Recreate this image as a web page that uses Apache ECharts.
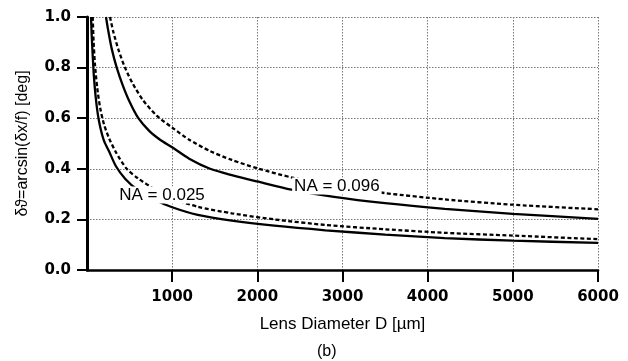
<!DOCTYPE html>
<html>
<head>
<meta charset="utf-8">
<script src="https://cdn.jsdelivr.net/npm/echarts@6/dist/echarts.min.js"></script>
<style>
  html, body { margin: 0; padding: 0; background: #fff; }
  #chart { width: 628px; height: 361px; }
</style>
</head>
<body>
<div id="chart"></div>
<script>
// lens diameter D [um] vs angle [deg]
const solid025 = [[47,1.0],[55,0.93],[65,0.86],[80,0.77],[100,0.69],[125,0.62],[155,0.565],[200,0.51],[260,0.468],[340,0.41],[450,0.36],[600,0.315],[800,0.277],[1000,0.248],[1300,0.218],[1700,0.195],[2200,0.175],[2800,0.157],[3500,0.14],[4200,0.126],[5000,0.116],[6000,0.107]];
const dashed025 = [[67,1.0],[78,0.9],[94,0.81],[120,0.72],[155,0.64],[200,0.575],[260,0.52],[340,0.465],[466,0.4],[600,0.362],[800,0.318],[1000,0.283],[1300,0.25],[1700,0.224],[2200,0.2],[2800,0.178],[3500,0.161],[4200,0.147],[5000,0.136],[6000,0.122]];
const solid096 = [[223,1.0],[250,0.945],[290,0.875],[349,0.8],[420,0.73],[500,0.665],[603,0.6],[730,0.55],[858,0.515],[1000,0.485],[1200,0.44],[1445,0.4],[1700,0.375],[2000,0.35],[2400,0.318],[2900,0.289],[3500,0.264],[4200,0.242],[5000,0.222],[6000,0.202]];
const dashed096 = [[270,1.0],[310,0.94],[370,0.87],[446,0.8],[540,0.735],[660,0.67],[818,0.61],[1000,0.563],[1200,0.515],[1445,0.47],[1700,0.435],[2000,0.402],[2400,0.366],[2900,0.333],[3500,0.304],[4200,0.279],[5000,0.258],[6000,0.24]];
const labels = [[881,0.296,'NA = 0.025'],[2934,0.332,'NA = 0.096']];

const xTitle = 'Lens Diameter D [µm]';
const yTitle = 'δϑ=arcsin(δx/f) [deg]';
const numFont = 'DejaVu Sans';
const txtFont = 'Liberation Sans, Arial, DejaVu Sans';

const chart = echarts.init(document.getElementById('chart'));

function curve(data, dashed) {
	return {
		type: 'line',
		data: data,
		showSymbol: false,
		symbol: 'none',
		smooth: 0.25,
		clip: true,
		silent: true,
		lineStyle: {
			color: '#000',
			width: 2.3,
			type: dashed ? [4, 2.5] : 'solid'
		},
		z: 3
	};
}

chart.setOption({
	animation: false,
	backgroundColor: '#fff',
	title: {
		text: '(b)',
		left: 317,
		top: 344,
		padding: 0,
		textStyle: { fontFamily: txtFont, fontSize: 16, fontWeight: 'normal', color: '#000' }
	},
	grid: { left: 87, right: 30, top: 17, bottom: 91 },
	xAxis: {
		type: 'value',
		min: 0,
		max: 6000,
		interval: 1000,
		name: xTitle,
		nameLocation: 'middle',
		nameGap: 46,
		nameTextStyle: { fontFamily: txtFont, fontSize: 17, color: '#000' },
		axisLine: { onZero: false, lineStyle: { color: '#000', width: 2.5 } },
		axisTick: { show: true, inside: false, length: 12, lineStyle: { color: '#000', width: 2 } },
		axisLabel: {
			showMinLabel: false,
			margin: 20,
			formatter: (v) => String(v),
			fontFamily: numFont,
			fontWeight: 'bold',
			fontSize: 15,
			color: '#000'
		},
		splitLine: { show: true, lineStyle: { color: '#777', width: 1, type: [1.5, 1.5] } }
	},
	yAxis: {
		type: 'value',
		min: 0,
		max: 1,
		interval: 0.2,
		name: yTitle,
		nameLocation: 'middle',
		nameGap: 56,
		nameTextStyle: { fontFamily: txtFont, fontSize: 16, color: '#000' },
		axisLine: { show: true, lineStyle: { color: '#000', width: 3 } },
		axisTick: { show: true, length: 10, lineStyle: { color: '#000', width: 2 } },
		axisLabel: {
			margin: 16,
			formatter: (v) => v.toFixed(1),
			fontFamily: numFont,
			fontWeight: 'bold',
			fontSize: 15,
			color: '#000'
		},
		splitLine: { show: true, lineStyle: { color: '#777', width: 1, type: [1.5, 1.5] } }
	},
	series: [
		curve(solid025, false),
		curve(dashed025, true),
		curve(solid096, false),
		curve(dashed096, true),
		{
			type: 'scatter',
			data: labels,
			symbolSize: 2,
			silent: true,
			itemStyle: { color: '#fff', opacity: 1 },
			z: 10,
			label: {
				show: true,
				position: 'inside',
				formatter: (p) => p.value[2],
				fontFamily: txtFont,
				fontSize: 17,
				color: '#000',
				opacity: 1,
				backgroundColor: '#fff',
				padding: [0, 2]
			}
		}
	]
});
</script>
</body>
</html>
